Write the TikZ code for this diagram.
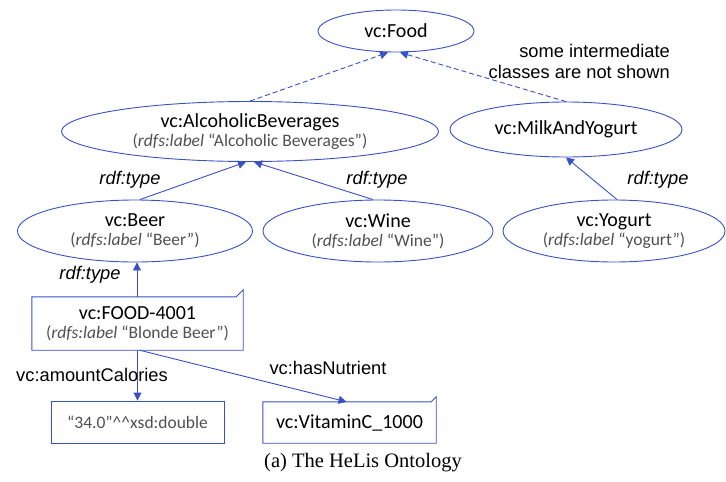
\documentclass[tikz,border=0pt]{standalone}
\usepackage{fontspec}
\setmainfont{Carlito}
\newfontfamily\arialf{Liberation Sans}
\newfontfamily\timesf{Liberation Serif}
\usetikzlibrary{shapes.geometric,arrows.meta}
\definecolor{lnblue}{RGB}{56,80,200}
\definecolor{lblgray}{RGB}{80,80,80}
\tikzset{
  cls/.style={ellipse, draw=lnblue, line width=0.9pt, inner sep=0pt, align=center, font=\fontsize{20}{22}\selectfont},
  boxn/.style={rectangle, inner sep=0pt, align=center, font=\fontsize{20}{22}\selectfont},
  edge/.style={draw=lnblue, line width=0.9pt, -{Triangle[length=8pt,width=8pt]}},
  dedge/.style={edge, dash pattern=on 5pt off 3pt},
  lbl/.style={font=\arialf\fontsize{18.3}{21}\selectfont, inner sep=0pt},
  tlbl/.style={font=\arialf\itshape\fontsize{18.3}{21}\selectfont, inner sep=0pt}
}
\newcommand{\sublab}[1]{{\fontsize{17.5}{19}\selectfont\color{lblgray}(\textit{rdfs:label} “#1”)}}
\begin{document}
\begin{tikzpicture}[x=1pt,y=-1pt]
\useasboundingbox (0,0) rectangle (726,482);
% classes
\node[cls, minimum width=156pt, minimum height=42pt] (food) at (396,31) {vc:Food};
\node[cls, minimum width=377pt, minimum height=60pt] (alc) at (250,131.5) {vc:AlcoholicBeverages\\[-3pt]\sublab{Alcoholic Beverages}};
\node[cls, minimum width=232pt, minimum height=55pt] (milk) at (566,129.5) {vc:MilkAndYogurt};
\node[cls, minimum width=235pt, minimum height=62pt] (beer) at (135,231) {vc:Beer\\[-3pt]\sublab{Beer}};
\node[cls, minimum width=230pt, minimum height=62pt] (wine) at (378,231) {vc:Wine\\[-3pt]\sublab{Wine}};
\node[cls, minimum width=222pt, minimum height=62pt] (yog) at (614,231) {vc:Yogurt\\[-3pt]\sublab{yogurt}};
% instance boxes
\node[boxn, minimum width=211pt, minimum height=53pt] (fd) at (137.5,323.5) {vc:FOOD-4001\\[-3pt]\sublab{Blonde Beer}};
\draw[lnblue, line width=0.9pt] (fd.south west) -- (fd.north west) -- ([xshift=-7pt]fd.north east) -- ([yshift=7pt]fd.north east) -- (fd.south east) -- cycle;
\node[boxn, draw=lnblue, line width=0.9pt, minimum width=173pt, minimum height=42pt, font=\fontsize{17.5}{19}\selectfont, text=lblgray] (cal) at (137.5,422) {“34.0”\^{}\^{}xsd:double};
\node[boxn, minimum width=173pt, minimum height=41pt] (vit) at (349.5,422.5) {vc:VitaminC\_1000};
\draw[lnblue, line width=0.9pt] (vit.south west) -- (vit.north west) -- ([xshift=-5pt]vit.north east) -- ([yshift=5pt]vit.north east) -- (vit.south east) -- cycle;
% connectors
\draw[dedge] (alc.north) -- ([xshift=-8pt]food.south);
\draw[dedge] (milk.north) -- ([xshift=4pt]food.south);
\draw[edge] ([xshift=5pt]beer.north) -- ([xshift=-4pt]alc.south);
\draw[edge] ([xshift=-5pt]wine.north) -- ([xshift=4pt]alc.south);
\draw[edge] ([xshift=3pt]yog.north) -- (milk.south);
\draw[edge] ([xshift=-0.5pt]fd.north) -- ([xshift=2pt]beer.south);
\draw[edge] (fd.south) -- (fd.south |- cal.north);
\draw[edge] ([xshift=2pt]fd.south) -- ([xshift=-3pt]vit.north);
% labels
\node[lbl, align=right, anchor=east] (note) at (670,61) {some intermediate\\classes are not shown};
\node[tlbl] (t1) at (130,180) {rdf:type};
\node[tlbl] (t2) at (377,180) {rdf:type};
\node[tlbl] (t3) at (658,180) {rdf:type};
\node[tlbl] (t4) at (90,275) {rdf:type};
\node[lbl] (ac) at (92,375) {vc:amountCalories};
\node[lbl] (hn) at (328,368) {vc:hasNutrient};
\node[font=\timesf\fontsize{20.5}{22}\selectfont, inner sep=0pt] (cap) at (363,463) {(a) The HeLis Ontology};
\end{tikzpicture}
\end{document}
